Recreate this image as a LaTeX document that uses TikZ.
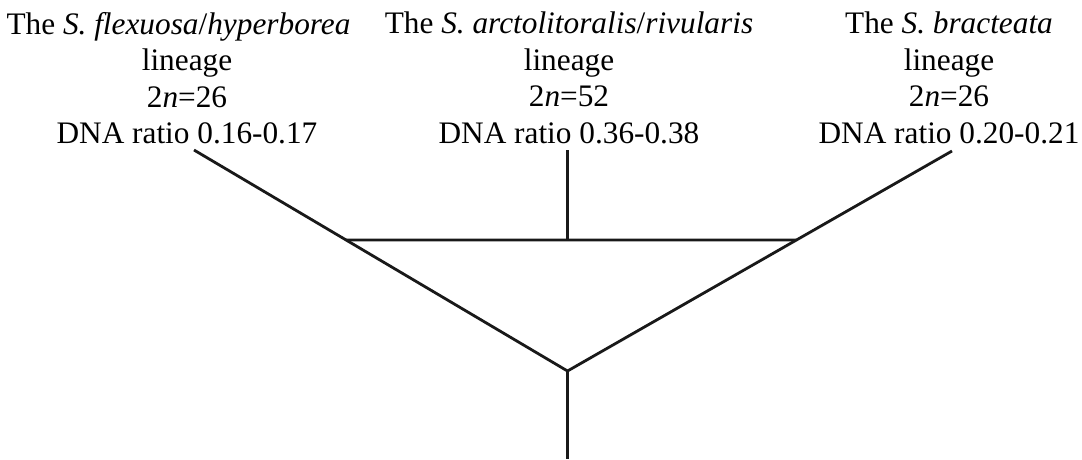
\documentclass[tikz,border=0pt]{standalone}
\usepackage{fontspec}
\setmainfont{Liberation Serif}
\usetikzlibrary{calc}
\begin{document}
\begin{tikzpicture}[x=1pt,y=-1pt,
  lbl/.style={align=center,inner sep=0pt,anchor=north,font=\fontsize{31.3}{36.5}\selectfont},
  branch/.style={line width=2.8pt,black!90}]
\useasboundingbox (0,0) rectangle (1082,459);
\node[lbl] (flex) at (187,12) {The \textit{S. flexuosa}/\textit{hyperborea}\hspace*{17pt}\\lineage\\2\textit{n}=26\\DNA ratio 0.16-0.17};
\node[lbl] (arct) at (569,12) {The \textit{S. arctolitoralis}/\textit{rivularis}\\lineage\\2\textit{n}=52\\DNA ratio 0.36-0.38};
\node[lbl] (brac) at (949,12) {The \textit{S. bracteata}\\lineage\\2\textit{n}=26\\DNA ratio 0.20-0.21};
\coordinate (L) at (194,150);
\coordinate (R) at (952,151);
\coordinate (C) at (567.5,150);
\coordinate (V) at (567.5,371);
\coordinate (B) at (567.5,459);
\coordinate (HL) at ($(L)!0.407!(V)$);
\coordinate (HR) at ($(R)!0.4045!(V)$);
\coordinate (HC) at (567.5,240);
\draw[branch] (L) -- (V) -- (R);
\draw[branch] (HL) -- (HR);
\draw[branch] (C) -- (HC);
\draw[branch] (V) -- (B);
\end{tikzpicture}
\end{document}
